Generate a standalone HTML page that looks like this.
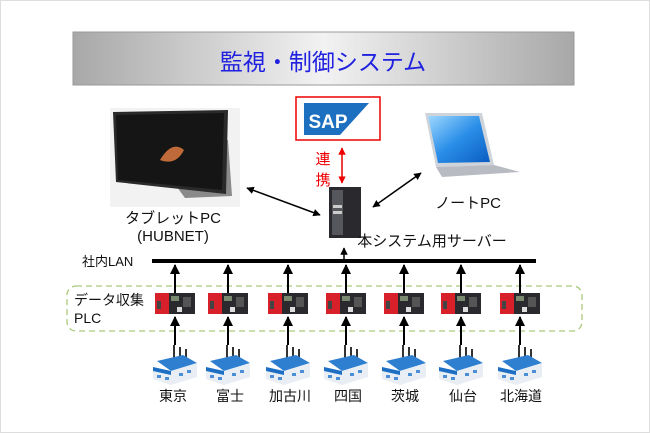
<!DOCTYPE html>
<html><head><meta charset="utf-8"><style>
body{margin:0;background:#fff}
svg{display:block}
text{font-family:"Liberation Sans","Noto Sans CJK JP",sans-serif}
</style></head><body>
<svg width="650" height="433" viewBox="0 0 650 433" xmlns="http://www.w3.org/2000/svg">
<defs>
<linearGradient id="tg" x1="0" y1="0" x2="1" y2="0">
<stop offset="0" stop-color="#a8a8a8"/><stop offset="0.5" stop-color="#f2f2f2"/><stop offset="1" stop-color="#a8a8a8"/>
</linearGradient>
<linearGradient id="scr" x1="0" y1="0" x2="1" y2="1">
<stop offset="0" stop-color="#9fd8ff"/><stop offset="0.5" stop-color="#2a8ee8"/><stop offset="1" stop-color="#0a5cc0"/>
</linearGradient>
<marker id="ah" viewBox="0 0 10 10" refX="9" refY="5" markerWidth="5" markerHeight="5" orient="auto-start-reverse"><path d="M0,0L10,5L0,10z" fill="#000"/></marker>
<marker id="ahr" viewBox="0 0 10 10" refX="9" refY="5" markerWidth="5" markerHeight="5" orient="auto-start-reverse"><path d="M0,0L10,5L0,10z" fill="#e00"/></marker>
<g id="plc">
<rect x="-20" y="0" width="14" height="21" fill="#d8202a"/>
<rect x="-6" y="0" width="26" height="21" fill="#2a2a2e"/>
<rect x="-4" y="3" width="8" height="5" fill="#7a8a70"/>
<rect x="8" y="4" width="8" height="10" fill="#555"/>
<rect x="2" y="14" width="5" height="5" fill="#ddd"/>
<rect x="-18" y="8" width="4" height="8" fill="#444"/>
</g>
<g id="fac">
<rect x="-2" y="0" width="2" height="14" fill="#333"/><rect x="4" y="2" width="2" height="14" fill="#333"/><rect x="10" y="4" width="2" height="14" fill="#333"/>
<path d="M-18,16 L8,10 L22,18 L-4,26z" fill="#2f7fd0"/>
<path d="M-22,24 L-4,26 L22,18 L22,32 L-4,40 L-22,34z" fill="#e8eef4"/>
<path d="M-22,22 L-4,26 L-4,30 L-22,26z" fill="#1d6fc4"/>
<rect x="-18" y="30" width="4" height="3" fill="#4a8ed6"/><rect x="-10" y="32" width="4" height="3" fill="#4a8ed6"/>
<rect x="4" y="28" width="4" height="3" fill="#4a8ed6"/><rect x="12" y="25" width="4" height="3" fill="#4a8ed6"/>
</g>
</defs>
<rect x="0.5" y="0.5" width="649" height="432" fill="#fff" stroke="#ddd"/>
<rect x="73" y="32" width="501" height="53" fill="url(#tg)" stroke="#999"/>
<text x="323" y="70" font-size="23" fill="#2020e0" text-anchor="middle">監視・制御システム</text>
<!-- SAP -->
<rect x="296" y="97" width="84" height="43" fill="#fff" stroke="#e00" stroke-width="1.5"/>
<path d="M304,103 L369,103 L340,135 L304,135z" fill="#1d6fbf"/>
<text x="328" y="128" font-size="19" font-weight="bold" fill="#fff" text-anchor="middle">SAP</text>
<line x1="342" y1="148" x2="342" y2="183" stroke="#e00" stroke-width="1.5" marker-start="url(#ahr)" marker-end="url(#ahr)"/>
<text x="323" y="164" font-size="15" fill="#e00" text-anchor="middle">連</text>
<text x="323" y="185" font-size="15" fill="#e00" text-anchor="middle">携</text>
<!-- tablet -->
<rect x="110" y="108" width="130" height="99" fill="#f2f2f2"/>
<path d="M150,150 L228,140 L232,196 L185,198z" fill="#8a8a8a"/>
<path d="M113,112 L228,110 L226,194 L116,182z" fill="#2a2a2a"/>
<path d="M116,115 L224,113 L222,190 L118,180z" fill="#151515"/>
<path d="M160,160 Q172,140 184,150 Q176,166 160,160z" fill="#c06a3a"/>
<!-- server -->
<rect x="329" y="187" width="32" height="51" fill="#2a2a2e"/>
<rect x="332" y="190" width="11" height="45" fill="#55575c"/>
<rect x="333" y="205" width="9" height="3" fill="#ccc"/><rect x="333" y="211" width="9" height="3" fill="#ccc"/>
<!-- laptop -->
<path d="M425,113 L482,113 L494,165 L436,167z" fill="#cfd4da"/>
<path d="M428,116 L479,116 L490,162 L438,163z" fill="url(#scr)"/>
<path d="M436,167 L494,165 L520,172 L442,177z" fill="#b8bcc2"/>
<!-- arrows -->
<line x1="247" y1="188" x2="320" y2="215" stroke="#000" stroke-width="1.5" marker-start="url(#ah)" marker-end="url(#ah)"/>
<line x1="421" y1="173" x2="373" y2="207" stroke="#000" stroke-width="1.5" marker-start="url(#ah)" marker-end="url(#ah)"/>
<text x="173" y="223" font-size="15" fill="#111" text-anchor="middle">タブレットPC</text>
<text x="173" y="241" font-size="15" fill="#111" text-anchor="middle">(HUBNET)</text>
<text x="468" y="208" font-size="15" fill="#111" text-anchor="middle">ノートPC</text>
<text x="432" y="246" font-size="15" fill="#111" text-anchor="middle">本システム用サーバー</text>
<!-- LAN -->
<line x1="152" y1="261" x2="536" y2="261" stroke="#000" stroke-width="4"/>
<text x="82" y="266" font-size="13" fill="#111">社内LAN</text>
<line x1="344" y1="259" x2="344" y2="248" stroke="#000" stroke-width="1.5" marker-end="url(#ah)"/>
<rect x="67" y="286" width="515" height="45" rx="9" fill="none" stroke="#a9c97a" stroke-width="1.3" stroke-dasharray="6,4"/>
<text x="74" y="305" font-size="14" fill="#111">データ収集</text>
<text x="74" y="323" font-size="14" fill="#111">PLC</text>
<g stroke="#000" stroke-width="2">
<line x1="175" y1="293" x2="175" y2="265" marker-end="url(#ah)"/><line x1="175" y1="345" x2="175" y2="317" marker-end="url(#ah)"/>
<line x1="228" y1="293" x2="228" y2="265" marker-end="url(#ah)"/><line x1="228" y1="345" x2="228" y2="317" marker-end="url(#ah)"/>
<line x1="288" y1="293" x2="288" y2="265" marker-end="url(#ah)"/><line x1="288" y1="345" x2="288" y2="317" marker-end="url(#ah)"/>
<line x1="346" y1="293" x2="346" y2="265" marker-end="url(#ah)"/><line x1="346" y1="345" x2="346" y2="317" marker-end="url(#ah)"/>
<line x1="404" y1="293" x2="404" y2="265" marker-end="url(#ah)"/><line x1="404" y1="345" x2="404" y2="317" marker-end="url(#ah)"/>
<line x1="461" y1="293" x2="461" y2="265" marker-end="url(#ah)"/><line x1="461" y1="345" x2="461" y2="317" marker-end="url(#ah)"/>
<line x1="520" y1="293" x2="520" y2="265" marker-end="url(#ah)"/><line x1="520" y1="345" x2="520" y2="317" marker-end="url(#ah)"/>
</g>
<use href="#plc" x="175" y="293"/><use href="#plc" x="228" y="293"/><use href="#plc" x="288" y="293"/><use href="#plc" x="346" y="293"/><use href="#plc" x="404" y="293"/><use href="#plc" x="461" y="293"/><use href="#plc" x="520" y="293"/>
<use href="#fac" x="175" y="345"/><use href="#fac" x="228" y="345"/><use href="#fac" x="288" y="345"/><use href="#fac" x="346" y="345"/><use href="#fac" x="404" y="345"/><use href="#fac" x="461" y="345"/><use href="#fac" x="520" y="345"/>
<g font-size="14" fill="#111" text-anchor="middle">
<text x="173" y="401">東京</text><text x="230" y="401">富士</text><text x="290" y="401">加古川</text><text x="348" y="401">四国</text><text x="405" y="401">茨城</text><text x="463" y="401">仙台</text><text x="521" y="401">北海道</text>
</g>
</svg>
</body></html>
